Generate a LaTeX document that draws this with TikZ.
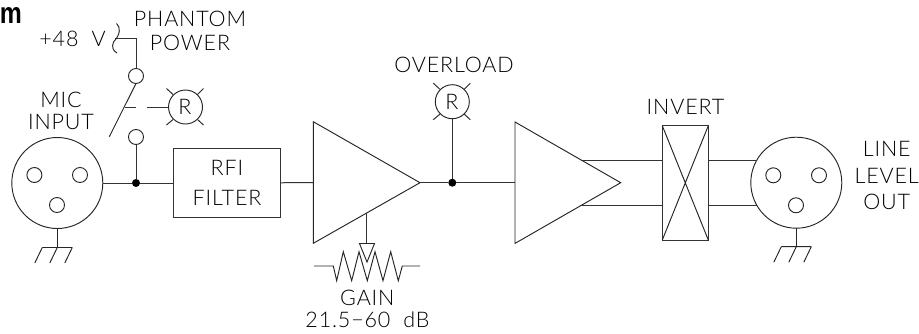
\documentclass[tikz,border=0pt]{standalone}
\usepackage{fontspec}
\usepackage{graphicx}
\setmainfont{Liberation Sans}
\newfontfamily\cad[LetterSpace=4]{Lato Light}
\tikzset{
  x=1pt,y=-1pt,
  wire/.style={line width=1pt,black!80},
  thin wire/.style={line width=0.95pt,black!85},
  lbl/.style={anchor=base,inner sep=0,font=\cad\fontsize{21.5}{21.5}\selectfont,text=black},
  xlr/.style={circle,draw,line width=0.95pt,black!85,minimum size=91pt,inner sep=0,outer sep=0},
  pin/.style={circle,draw,line width=0.95pt,black!85,minimum size=15pt,inner sep=0,outer sep=0},
  lamp/.style={circle,draw,line width=0.95pt,black!85,minimum size=34pt,inner sep=0,outer sep=0},
  boxn/.style={rectangle,draw,line width=1pt,black!80,inner sep=0,outer sep=0},
  junction/.style={circle,fill=black,minimum size=8pt,inner sep=0,outer sep=0},
}
\newcommand{\groundsym}[2]{%
  \draw[thin wire] (#1-15,#2) -- (#1+15,#2)
    (#1-15,#2) -- (#1-22.5,#2+15.5) (#1,#2) -- (#1-7.5,#2+15.5) (#1+15,#2) -- (#1+7.5,#2+15.5);}
\newcommand{\raysym}[2]{%
  \draw[thin wire] (#1-19,#2-18.5) -- (#1-12.5,#2-12.5) (#1+18,#2-18.5) -- (#1+12,#2-12.5)
    (#1-19,#2+18) -- (#1-12.5,#2+12.5) (#1+18,#2+18) -- (#1+12,#2+12.5);}
\begin{document}
\begin{tikzpicture}
\useasboundingbox (0,0) rectangle (919,333);
% heading fragment
\node[anchor=base,inner sep=0,font=\fontsize{30}{30}\selectfont\bfseries] (hd) at (11,23) {\resizebox{22pt}{16pt}{m}};
% labels
\node[lbl] (l48) at (72.5,46) {+48\hspace{13pt}V};
\node[lbl] (lph) at (190,26.7) {PHANTOM};
\node[lbl] (lpw) at (190,50) {POWER};
\node[lbl] (lmic) at (61,107) {MIC};
\node[lbl] (lin) at (61,129) {INPUT};
\node[lbl] (lrfi) at (227,175) {RFI};
\node[lbl] (lfil) at (227,205.7) {FILTER};
\node[lbl] (lov) at (454,72.7) {OVERLOAD};
\node[lbl] (lgain) at (367.3,305) {GAIN};
\node[lbl] (lrng) at (367.5,327.3) {21.5−60\hspace{13pt}dB};
\node[lbl] (linv) at (685.5,114.3) {INVERT};
\node[lbl] (lli) at (886.7,156.7) {LINE};
\node[lbl] (lle) at (886.7,183.3) {LEVEL};
\node[lbl] (lou) at (886.7,209.3) {OUT};
% mic connector
\node[xlr] (mic) at (57.3,183) {};
\node[pin] (m1) at (34.4,175) {};
\node[pin] (m2) at (80,175) {};
\node[pin] (m3) at (57,205) {};
\coordinate (mg) at (57.3,247.5);
\draw[thin wire] (mic.south) -- (mg);
\groundsym{57.3}{247.5}
% rfi
\node[boxn,minimum width=106.5pt,minimum height=68.5pt] (rfi) at (226.75,182.75) {};
\node[junction] (j1) at (136,183) {};
\draw[wire] (mic.east) -- (j1) -- (j1-|rfi.west);
% switch
\node[pin] (sb) at (136,137) {};
\node[pin] (st) at (136,76) {};
\coordinate (sa) at (109.3,136.7);
\coordinate (jk) at (114.5,38);
\draw[wire] (j1) -- (sb.south);
\draw[wire] (st.north) -- (136,38) -- (jk);
\draw[thin wire] (st.south) -- (sa);
\draw[thin wire] (116.5,23.5) .. controls (120.5,27) and (121,34) .. (113.5,42)
   .. controls (111.5,47) and (113,51) .. (117,53);
% lamp 1
\node[lamp] (lamp1) at (185.5,107) {};
\node[lbl] (r1) at (185,114.8) {R};
\raysym{185.5}{107}
\coordinate (d1) at (125,107); \coordinate (d2) at (136,107); \coordinate (d3) at (147,107);
\draw[wire] (d1) -- (d2);
\draw[wire] (d3) -- (lamp1.west);
% amp 1
\coordinate (a1t) at (313.3,121.7); \coordinate (a1b) at (313.3,243.3); \coordinate (a1o) at (420,182.7);
\coordinate (a1i) at (313.3,182.7);
\draw[thin wire] (a1t) -- (a1o) -- (a1b) -- cycle;
\draw[wire] (rfi.east) -- (a1i);
% gain
\coordinate (wt) at (366.7,213.3); \coordinate (wb) at (366.7,243.5);
\draw[wire] (wt) -- (wb);
\draw[thin wire] (359.5,243.5) -- (374.5,243.5) -- (367,262) -- cycle;
\draw[thin wire] (314,266) -- (333.3,266) -- (336.7,280.7) -- (343.3,251.7) -- (351.7,280.7) -- (359,251.7) -- (367.3,280.7) -- (375,251.7) -- (383,280.7) -- (390.7,251.7) -- (398.3,280.7) -- (402.3,266) -- (420,266);
% overload
\node[lamp] (lamp2) at (452.3,101.7) {};
\node[lbl] (r2) at (452,109.5) {R};
\raysym{452.3}{101.7}
\node[junction] (j2) at (452.3,182.7) {};
\coordinate (a2i) at (515,182.7);
\draw[wire] (a1o) -- (j2) -- (a2i);
\draw[wire] (lamp2.south) -- (j2);
% amp 2
\coordinate (a2t) at (515,122); \coordinate (a2b) at (515,243.4); \coordinate (a2o) at (620.7,182.7);
\draw[thin wire] (a2t) -- (a2o) -- (a2b) -- cycle;
% invert
\node[boxn,minimum width=46pt,minimum height=114.3pt] (inv) at (685.3,182.85) {};
\draw[thin wire] (inv.north west) -- (inv.south east) (inv.north east) -- (inv.south west);
% out connector
\node[xlr] (out) at (796.3,182.7) {};
\node[pin] (o1) at (773.3,175.3) {};
\node[pin] (o2) at (819,175.3) {};
\node[pin] (o3) at (796,205.3) {};
\coordinate (og) at (796.3,246.7);
\draw[thin wire] (out.south) -- (og);
\groundsym{796.3}{246.7}
% balanced lines
\coordinate (u0) at (581,160); \coordinate (u1) at (662.3,160); \coordinate (u2) at (708.3,160); \coordinate (u3) at (757,160);
\coordinate (v0) at (581,205.7); \coordinate (v1) at (662.3,205.7); \coordinate (v2) at (708.3,205.7); \coordinate (v3) at (757,205.7);
\draw[wire] (u0) -- (u1) (u2) -- (u3) (v0) -- (v1) (v2) -- (v3);
\end{tikzpicture}
\end{document}
